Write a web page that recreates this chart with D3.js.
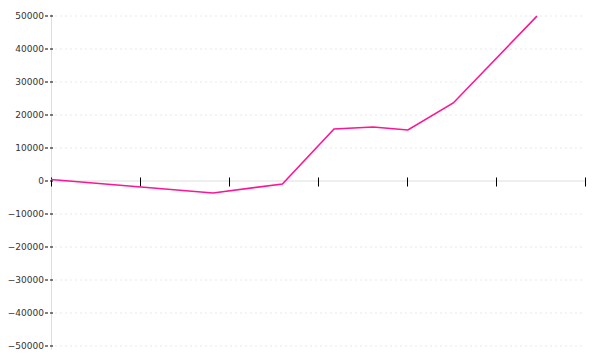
<!DOCTYPE html>
<html>
<head>
<meta charset="utf-8">
<script src="https://cdn.jsdelivr.net/npm/d3@7"></script>
<style>
  body { margin: 0; background: #fff; }
  text { font-family: "DejaVu Sans", Verdana, sans-serif; font-size: 9px; fill: #333; }
</style>
</head>
<body>
<div id="chart"></div>
<script>
// data (x in tick units)
const xs = [0, 1.82, 2.6, 3.18, 3.62, 4.01, 4.52, 5.46];
const values = [300, -3800, -1050, 15600, 16200, 15300, 23500, 49800];
const xTicks = [0, 1, 2, 3, 4, 5, 6];
const yTicks = [50000, 40000, 30000, 20000, 10000, 0, -10000, -20000, -30000, -40000, -50000];

const w = 600, h = 360;
const margin = { top: 15.5, right: 15, bottom: 14.5, left: 51 };
const width = w - margin.left - margin.right,
  height = h - margin.top - margin.bottom;

const svg = d3.select('#chart')
  .append('svg')
  .attr('width', w)
  .attr('height', h)
  .append('g')
  .attr('transform', `translate(${margin.left}, ${margin.top})`);

const x = d3.scaleLinear().domain([0, 6]).range([0, width]);
const y = d3.scaleLinear().domain([-50000, 50000]).range([height, 0]);

// grid lines
svg.selectAll('.grid')
  .data(yTicks.filter(d => d !== 0))
  .join('line')
  .attr('x1', 4)
  .attr('x2', width)
  .attr('y1', d => Math.round(y(d)) + 0.5)
  .attr('y2', d => Math.round(y(d)) + 0.5)
  .attr('stroke', '#e8e8e8')
  .attr('stroke-dasharray', '2,3');

// y axis line
svg.append('line')
  .attr('x1', 0.5).attr('x2', 0.5)
  .attr('y1', -1.5).attr('y2', height + 4)
  .attr('stroke', '#ddd');

// zero line
svg.append('line')
  .attr('x1', 0).attr('x2', width)
  .attr('y1', Math.round(y(0)) + 0.5).attr('y2', Math.round(y(0)) + 0.5)
  .attr('stroke', '#ddd');

// y axis labels
const yAxis = svg.append('g')
  .call(d3.axisLeft(y).tickValues(yTicks).tickSize(0).tickPadding(7).tickFormat(d3.format('d')));
yAxis.select('.domain').remove();
yAxis.selectAll('text').attr('fill', '#333').style('font-size', '9px');
yAxis.selectAll('.tick line').remove();

// y ticks
svg.selectAll('.ytick')
  .data(yTicks)
  .join('line')
  .attr('x1', -6)
  .attr('x2', 3)
  .attr('y1', d => Math.round(y(d)) + 0.5)
  .attr('y2', d => Math.round(y(d)) + 0.5)
  .attr('stroke', '#000')
  .attr('stroke-dasharray', '3,2');

// x axis ticks (no labels)
const xAxis = svg.append('g')
  .attr('transform', `translate(0, ${Math.round(y(0)) - 3})`)
  .call(d3.axisBottom(x).tickValues(xTicks).tickSize(9).tickFormat(''));
xAxis.select('.domain').remove();
xAxis.selectAll('.tick line').attr('stroke', '#000');

// line
const line = d3.line()
  .x((d, i) => x(xs[i]))
  .y(d => y(d));

svg.append('path')
  .datum(values)
  .attr('fill', 'none')
  .attr('stroke', '#ff1493')
  .attr('stroke-width', 1.6)
  .attr('d', line);
</script>
</body>
</html>
